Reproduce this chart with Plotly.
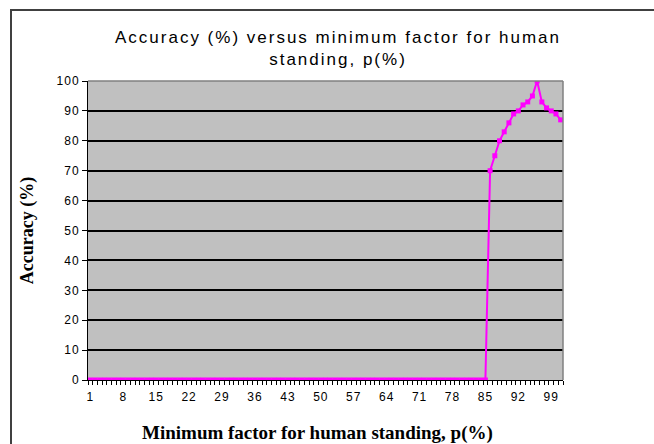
import plotly.graph_objects as go

# Minimum factor for human standing, p(%)
p_values = list(range(1, 102))

# Accuracy (%) for each p
accuracy = [
    0, 0, 0, 0, 0, 0, 0, 0, 0, 0,
    0, 0, 0, 0, 0, 0, 0, 0, 0, 0,
    0, 0, 0, 0, 0, 0, 0, 0, 0, 0,
    0, 0, 0, 0, 0, 0, 0, 0, 0, 0,
    0, 0, 0, 0, 0, 0, 0, 0, 0, 0,
    0, 0, 0, 0, 0, 0, 0, 0, 0, 0,
    0, 0, 0, 0, 0, 0, 0, 0, 0, 0,
    0, 0, 0, 0, 0, 0, 0, 0, 0, 0,
    0, 0, 0, 0, 0,
    70, 75, 80, 83, 86, 89, 90, 92, 93, 95,
    100, 93, 91, 90, 89, 87,
]

x_tick_vals = [1, 8, 15, 22, 29, 36, 43, 50, 57, 64, 71, 78, 85, 92, 99]
y_tick_vals = [0, 10, 20, 30, 40, 50, 60, 70, 80, 90, 100]

W, H = 654, 444
L, R, T, B = 88, 91, 81, 64
pw, ph = W - L - R, H - T - B


def spaced(text, px):
    return f'<span style="letter-spacing:{px}px">{text}</span>'


fig = go.Figure()
fig.add_trace(go.Scatter(
    x=p_values,
    y=accuracy,
    mode="lines+markers",
    line=dict(color="#FF00FF", width=2),
    marker=dict(symbol="square", size=5, color="#FF00FF"),
    showlegend=False,
))

sans = "Liberation Sans, Arial, sans-serif"
serif = "Liberation Serif, Times New Roman, serif"

fig.update_layout(
    width=W, height=H,
    margin=dict(l=L, r=R, t=T, b=B, autoexpand=False),
    paper_bgcolor="white",
    plot_bgcolor="#C0C0C0",
    title=dict(
        text=spaced("Accuracy (%) versus minimum factor for human", 2)
        + "<br>" + spaced("standing, p(%)", 2),
        x=(338 - L) / pw, xref="paper", xanchor="center",
        y=1 - 43 / H, yanchor="middle",
        font=dict(family=sans, size=17, color="black"),
    ),
    xaxis=dict(
        range=[0.5, 101.5],
        automargin=False,
        tickvals=x_tick_vals,
        ticktext=[spaced(str(v), 1) for v in x_tick_vals],
        ticks="",
        ticklabelstandoff=6,
        minor=dict(ticks="outside", tick0=0.5, dtick=1, ticklen=4,
                   tickcolor="black", tickwidth=1, showgrid=False),
        showgrid=False,
        zeroline=False,
        showline=True, linecolor="black", linewidth=1,
        tickfont=dict(family=sans, size=12, color="black"),
    ),
    yaxis=dict(
        range=[0, 100],
        automargin=False,
        tickvals=y_tick_vals,
        ticktext=[spaced(str(v), 1) for v in y_tick_vals],
        ticks="outside", ticklen=5, tickcolor="black", tickwidth=1,
        showgrid=True, gridcolor="black", gridwidth=1.5,
        zeroline=False,
        showline=True, linecolor="black", linewidth=1,
        tickfont=dict(family=sans, size=12, color="black"),
        title=dict(text="<b>Accuracy (%)</b>",
                   font=dict(family=serif, size=18, color="black"),
                   standoff=18),
    ),
)

# x-axis title
fig.add_annotation(
    text="<b>Minimum factor for human standing, p(%)</b>",
    xref="paper", yref="paper",
    x=(317 - L) / pw, y=(H - B - 433) / ph,
    xanchor="center", yanchor="middle", showarrow=False,
    font=dict(family=serif, size=19, color="black"),
)

# grey border on the top and right of the plot area
fig.add_shape(type="line", xref="paper", yref="paper", x0=0, x1=1, y0=1, y1=1,
              line=dict(color="#808080", width=1.5), layer="above")
fig.add_shape(type="line", xref="paper", yref="paper", x0=1, x1=1, y0=0, y1=1,
              line=dict(color="#808080", width=1.5), layer="above")

# outer chart frame, running off the right and bottom edges
fig.add_shape(type="rect", xref="paper", yref="paper",
              x0=(11 - L) / pw, x1=(W + 20 - L) / pw,
              y0=(H - B - (H + 20)) / ph, y1=(H - B - 10) / ph,
              line=dict(color="#404040", width=2), fillcolor="rgba(0,0,0,0)")

fig.write_html("out.html")
